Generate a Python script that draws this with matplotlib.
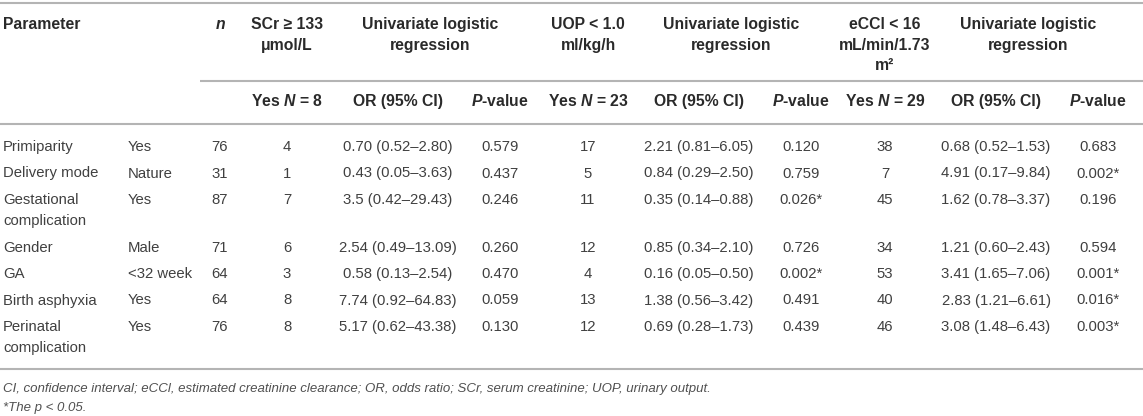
import matplotlib.pyplot as plt

plt.rcParams['font.family'] = ['Liberation Sans', 'DejaVu Sans']
plt.rcParams['mathtext.fontset'] = 'custom'
plt.rcParams['mathtext.it'] = 'Liberation Sans:bold:italic'
plt.rcParams['mathtext.rm'] = 'Liberation Sans:bold'

# table content
parameters = ['Primiparity', 'Delivery mode', 'Gestational\ncomplication', 'Gender',
              'GA', 'Birth asphyxia', 'Perinatal\ncomplication']
levels = ['Yes', 'Nature', 'Yes', 'Male', '<32 week', 'Yes', 'Yes']
n_total = [76, 31, 87, 71, 64, 64, 76]

outcome_labels = ['SCr \u2265 133\n\u03bcmol/L', 'UOP < 1.0\nml/kg/h',
                  'eCCl < 16\nmL/min/1.73\nm\u00b2']
outcome_yes_n = [8, 23, 29]

scr_yes = [4, 1, 7, 6, 3, 8, 8]
scr_or = ['0.70 (0.52\u20132.80)', '0.43 (0.05\u20133.63)', '3.5 (0.42\u201329.43)',
          '2.54 (0.49\u201313.09)', '0.58 (0.13\u20132.54)', '7.74 (0.92\u201364.83)',
          '5.17 (0.62\u201343.38)']
scr_p = ['0.579', '0.437', '0.246', '0.260', '0.470', '0.059', '0.130']

uop_yes = [17, 5, 11, 12, 4, 13, 12]
uop_or = ['2.21 (0.81\u20136.05)', '0.84 (0.29\u20132.50)', '0.35 (0.14\u20130.88)',
          '0.85 (0.34\u20132.10)', '0.16 (0.05\u20130.50)', '1.38 (0.56\u20133.42)',
          '0.69 (0.28\u20131.73)']
uop_p = ['0.120', '0.759', '0.026*', '0.726', '0.002*', '0.491', '0.439']

ecc_yes = [38, 7, 45, 34, 53, 40, 46]
ecc_or = ['0.68 (0.52\u20131.53)', '4.91 (0.17\u20139.84)', '1.62 (0.78\u20133.37)',
          '1.21 (0.60\u20132.43)', '3.41 (1.65\u20137.06)', '2.83 (1.21\u20136.61)',
          '3.08 (1.48\u20136.43)']
ecc_p = ['0.683', '0.002*', '0.196', '0.594', '0.001*', '0.016*', '0.003*']

footnotes = ['CI, confidence interval; eCCl, estimated creatinine clearance; OR, odds ratio; '
             'SCr, serum creatinine; UOP, urinary output.',
             '*The p < 0.05.']

groups = [(scr_yes, scr_or, scr_p), (uop_yes, uop_or, uop_p), (ecc_yes, ecc_or, ecc_p)]

W, H = 1143, 416
fig = plt.figure(figsize=(W / 100, H / 100), dpi=100)
ax = fig.add_axes([0, 0, 1, 1])
ax.set_xlim(0, W)
ax.set_ylim(H, 0)
ax.axis('off')

body_color = '#404040'
head_color = '#2a2a2a'
line_color = '#b4b4b4'
head = dict(fontsize=11.3, fontweight='bold', color=head_color, va='baseline')
body = dict(fontsize=10.7, color=body_color, va='baseline')
dy = 5.3  # baseline offset from visual row centre

x_param, x_level, x_n = 3, 128, 220
group_x = [287, 588, 885]
lh = 20.5


def multiline(x, y, s, step, **kw):
    for i, part in enumerate(s.split('\n')):
        ax.text(x, y + dy + i * step, part, **kw)


# rules
ax.hlines([3, 124, 369], 0, W, color=line_color, lw=1.5)
ax.hlines(81, 200, W, color=line_color, lw=1.5)

# header
multiline(x_param, 24, 'Parameter', lh, ha='left', **head)
multiline(x_n, 24, r'$n$', lh, ha='center', **head)
for gx, label, yes_n in zip(group_x, outcome_labels, outcome_yes_n):
    multiline(gx, 24, label, lh, ha='center', **head)
    multiline(gx + 143, 24, 'Univariate logistic\nregression', lh, ha='center', **head)
    multiline(gx, 101, r'Yes $N$ = %d' % yes_n, lh, ha='center', **head)
    multiline(gx + 111, 101, 'OR (95% CI)', lh, ha='center', **head)
    multiline(gx + 213, 101, r'$P$-value', lh, ha='center', **head)

# body
y = 146
for i, (param, level, n) in enumerate(zip(parameters, levels, n_total)):
    multiline(x_param, y, param, 21.5, ha='left', **body)
    multiline(x_level, y, level, 21.5, ha='left', **body)
    multiline(x_n, y, str(n), 21.5, ha='center', **body)
    for gx, (yes, ors, ps) in zip(group_x, groups):
        multiline(gx, y, str(yes[i]), 21.5, ha='center', **body)
        multiline(gx + 111, y, ors[i], 21.5, ha='center', **body)
        multiline(gx + 213, y, ps[i], 21.5, ha='center', **body)
    y += 26.2 + 22.2 * param.count('\n')

# footnotes
for k, note in enumerate(footnotes):
    ax.text(x_param, 392 + k * 19, note, ha='left', va='baseline', fontsize=9.5,
            style='italic', color='#505050')

fig.savefig('out.png', dpi=100)
